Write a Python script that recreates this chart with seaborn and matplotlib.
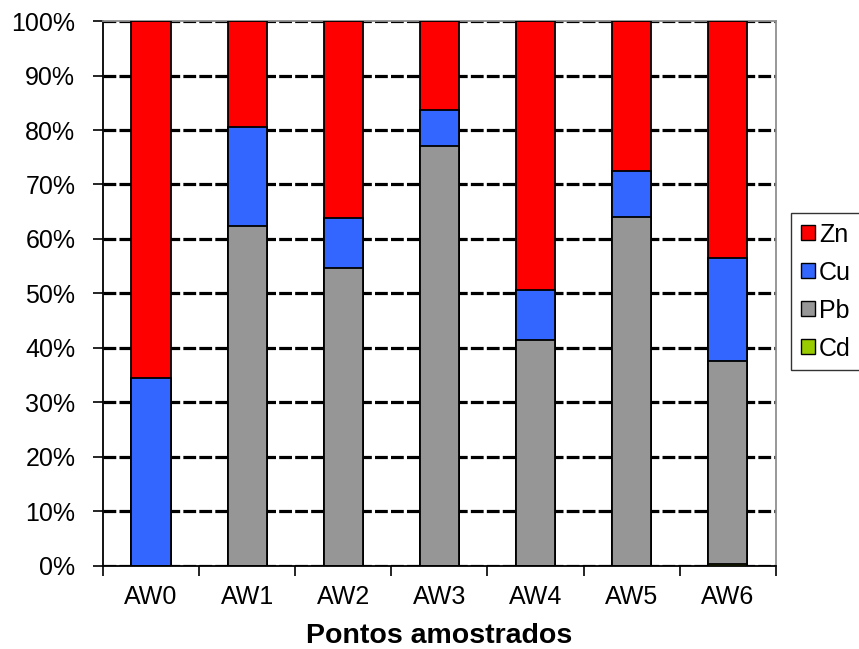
import matplotlib
matplotlib.use("Agg")
import matplotlib.pyplot as plt
import seaborn as sns
import numpy as np
import pandas as pd
from matplotlib.patches import Patch
from matplotlib.ticker import FixedLocator

sns.set_theme(style="white")
plt.rcParams['font.family'] = ['Liberation Sans', 'DejaVu Sans']
plt.rcParams['text.color'] = 'black'
plt.rcParams['axes.labelcolor'] = 'black'
plt.rcParams['xtick.color'] = 'black'
plt.rcParams['ytick.color'] = 'black'

categories = ["AW0", "AW1", "AW2", "AW3", "AW4", "AW5", "AW6"]
cd = [0.0, 0.0, 0.0, 0.0, 0.0, 0.0, 0.3]
pb = [0.0, 62.3, 54.6, 77.0, 41.4, 64.1, 37.4]
cu = [34.5, 18.3, 9.2, 6.7, 9.2, 8.4, 18.8]
zn = [65.5, 19.4, 36.2, 16.3, 49.4, 27.5, 43.5]

series = ["Cd", "Pb", "Cu", "Zn"]
colors = {"Zn": "#FF0000", "Cu": "#3366FF", "Pb": "#969696", "Cd": "#99CC00"}

df = pd.DataFrame({"cat": categories, "Cd": cd, "Pb": pb, "Cu": cu, "Zn": zn})
tot = df[series].sum(axis=1)
for s in series:
    df[s] = df[s] / tot * 100
cum = df[series].cumsum(axis=1)

fig = plt.figure(figsize=(8.59, 6.49), dpi=100)
ax = fig.add_axes([0.12, 0.128, 0.783, 0.8396])

for s in ["Zn", "Cu", "Pb", "Cd"]:
    sns.barplot(x=df["cat"], y=cum[s], color=colors[s], edgecolor="black",
                linewidth=1.3, width=0.41, ax=ax, saturation=1, zorder=3)

ax.set_ylim(0, 100)
ax.set_xlim(-0.5, len(categories) - 0.5)
ax.set_yticks(np.arange(0, 101, 10))
ax.set_yticklabels([f"{v}%" for v in range(0, 101, 10)], fontsize=18)
ax.set_xticks(range(len(categories)))
ax.set_xticklabels(categories, fontsize=18)
ax.xaxis.set_minor_locator(FixedLocator(np.arange(-0.5, len(categories), 1)))
ax.tick_params(axis="x", which="major", length=0, pad=13.5)
ax.tick_params(axis="x", which="minor", length=7, width=1.2, color="black", direction="out", bottom=True)
ax.tick_params(axis="y", which="major", length=7, width=1.2, color="black", direction="out", left=True, pad=13)

ax.yaxis.grid(True, color="black", linestyle=(0, (4, 1)), linewidth=2.3, zorder=0)
ax.set_axisbelow(True)

ax.set_xlabel("Pontos amostrados", fontsize=20.5, fontweight="bold", labelpad=10)
ax.set_ylabel("")

for side in ["left", "bottom"]:
    ax.spines[side].set_color("black")
    ax.spines[side].set_linewidth(1.3)
for side in ["top", "right"]:
    ax.spines[side].set_color("#909090")
    ax.spines[side].set_linewidth(1.3)

handles = [Patch(facecolor=colors[s], edgecolor="black", linewidth=1.0) for s in ["Zn", "Cu", "Pb", "Cd"]]
leg = fig.legend(handles, ["Zn", "Cu", "Pb", "Cd"], loc="center left",
                 bbox_to_anchor=(0.921, 0.5508), fontsize=18, frameon=True,
                 fancybox=False, edgecolor="black", handlelength=0.58, handleheight=0.58,
                 handletextpad=0.15, borderpad=0.38, labelspacing=0.56, borderaxespad=0)
leg.get_frame().set_linewidth(1.0)

fig.savefig("out.png", dpi=100)
